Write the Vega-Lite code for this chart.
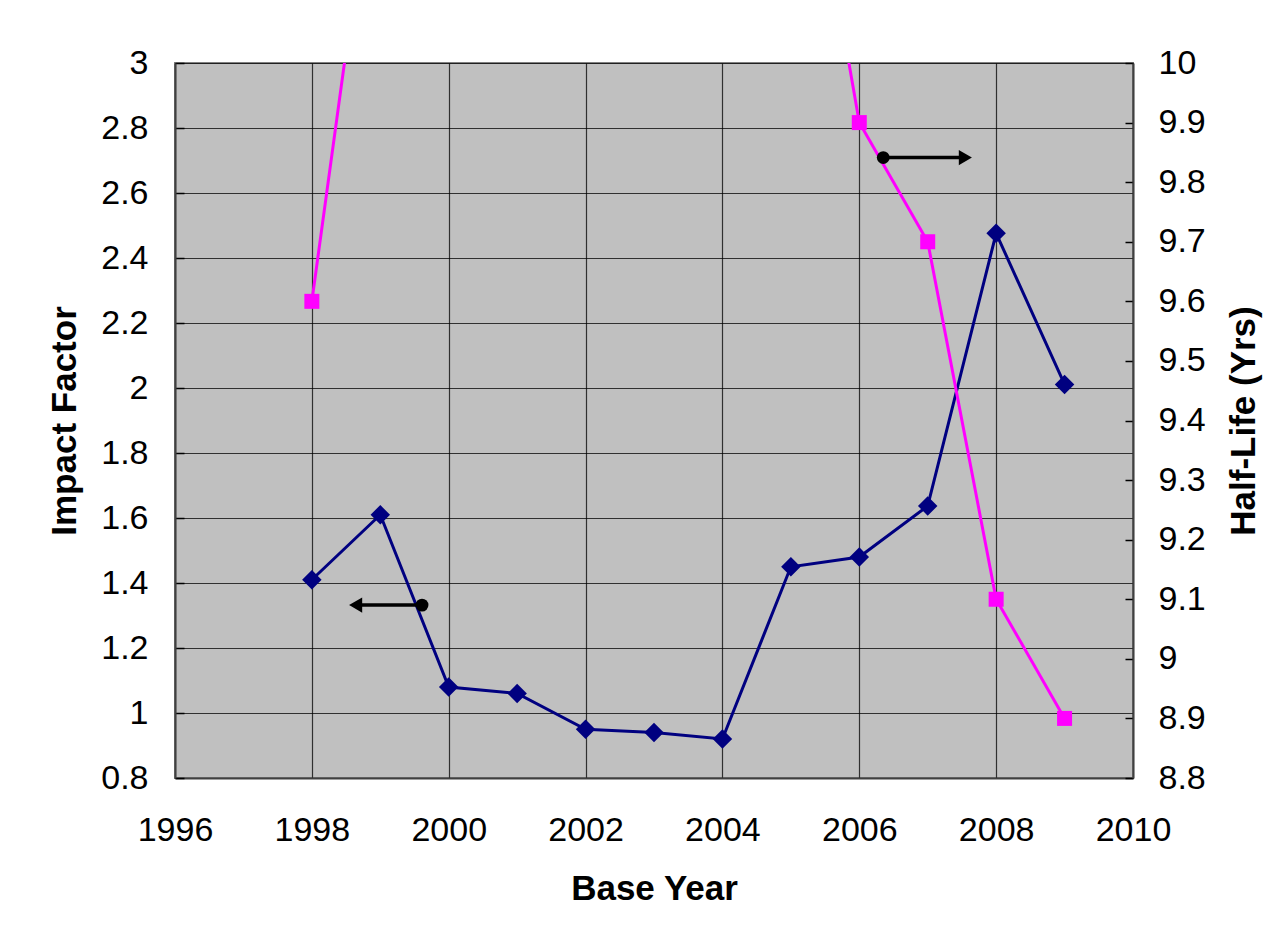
{
  "$schema": "https://vega.github.io/schema/vega-lite/v6.json",
  "width": 958,
  "height": 715,
  "autosize": {"type": "none"},
  "padding": {"left": 175, "top": 63, "right": 145, "bottom": 162},
  "background": "white",
  "config": {
    "view": {"fill": "#C0C0C0", "stroke": "#808080", "strokeWidth": 2},
    "font": "Liberation Sans",
    "axis": {
      "labelFont": "Liberation Sans",
      "titleFont": "Liberation Sans",
      "labelFontSize": 34,
      "titleFontSize": 35,
      "labelColor": "#000000",
      "titleColor": "#000000",
      "titleFontWeight": "bold",
      "domainColor": "#404040",
      "domainWidth": 2,
      "labelOverlap": false,
      "labelFlush": false
    }
  },
  "datasets": {
    "impact": [
      {"year": 1998, "impact": 1.41},
      {"year": 1999, "impact": 1.61},
      {"year": 2000, "impact": 1.08},
      {"year": 2001, "impact": 1.06},
      {"year": 2002, "impact": 0.95},
      {"year": 2003, "impact": 0.94},
      {"year": 2004, "impact": 0.92},
      {"year": 2005, "impact": 1.45},
      {"year": 2006, "impact": 1.48},
      {"year": 2007, "impact": 1.637},
      {"year": 2008, "impact": 2.476},
      {"year": 2009, "impact": 2.011}
    ],
    "halflife": [
      {"year": 1998, "halflife": 9.6},
      {"year": 1999, "halflife": 10.44},
      {"year": 2000, "halflife": 10.6},
      {"year": 2001, "halflife": 10.7},
      {"year": 2002, "halflife": 10.7},
      {"year": 2003, "halflife": 10.65},
      {"year": 2004, "halflife": 10.6},
      {"year": 2005, "halflife": 10.56},
      {"year": 2006, "halflife": 9.9},
      {"year": 2007, "halflife": 9.7},
      {"year": 2008, "halflife": 9.1},
      {"year": 2009, "halflife": 8.9}
    ],
    "arrows": [
      {"tail": 1999.61, "head": 1998.64, "y": 1.332, "dir": "left"},
      {"tail": 2006.35, "head": 2007.55, "y": 2.709, "dir": "right"}
    ]
  },
  "layer": [
    {
      "layer": [
        {
          "data": {"name": "impact"},
          "mark": {"type": "line", "color": "#000080", "strokeWidth": 3},
          "encoding": {
            "x": {
              "field": "year",
              "type": "quantitative",
              "scale": {"domain": [1996, 2010], "nice": false, "zero": false},
              "axis": {
                "title": "Base Year",
                "values": [1996, 1998, 2000, 2002, 2004, 2006, 2008, 2010],
                "format": "d",
                "ticks": false,
                "labelPadding": 35,
                "grid": true,
                "gridColor": "#000000",
                "gridOpacity": 0.75,
                "gridWidth": 1.2,
                "titlePadding": 24
              }
            },
            "y": {
              "field": "impact",
              "type": "quantitative",
              "scale": {"domain": [0.8, 3], "nice": false, "zero": false},
              "axis": {
                "title": "Impact Factor",
                "titleAngle": 270,
                "titleBaseline": "bottom",
                "titlePadding": 18,
                "values": [0.8, 0.9, 1, 1.1, 1.2, 1.3, 1.4, 1.5, 1.6, 1.7, 1.8, 1.9, 2, 2.1, 2.2, 2.3, 2.4, 2.5, 2.6, 2.7, 2.8, 2.9, 3],
                "format": "~g",
                "labelExpr": "round(datum.value*10) % 2 == 0 ? datum.label : ''",
                "tickSize": -9,
                "tickColor": "#000000",
                "tickWidth": 1.5,
                "labelPadding": 36,
                "grid": true,
                "gridColor": "#000000",
                "gridWidth": 1.2,
                "gridOpacity": {"condition": {"test": "round(datum.value*10) % 2 == 0", "value": 0.75}, "value": 0}
              }
            }
          }
        },
        {
          "data": {"name": "impact"},
          "mark": {"type": "point", "shape": "diamond", "filled": true, "color": "#000080", "size": 380, "opacity": 1},
          "encoding": {
            "x": {"field": "year", "type": "quantitative"},
            "y": {"field": "impact", "type": "quantitative"}
          }
        }
      ]
    },
    {
      "layer": [
        {
          "data": {"name": "halflife"},
          "mark": {"type": "line", "color": "#FF00FF", "strokeWidth": 3, "clip": true},
          "encoding": {
            "x": {"field": "year", "type": "quantitative"},
            "y": {
              "field": "halflife",
              "type": "quantitative",
              "scale": {"domain": [8.8, 10], "nice": false, "zero": false},
              "axis": {
                "orient": "right",
                "title": "Half-Life (Yrs)",
                "titleAngle": 270,
                "titleBaseline": "top",
                "titlePadding": 21,
                "values": [8.8, 8.85, 8.9, 8.95, 9, 9.05, 9.1, 9.15, 9.2, 9.25, 9.3, 9.35, 9.4, 9.45, 9.5, 9.55, 9.6, 9.65, 9.7, 9.75, 9.8, 9.85, 9.9, 9.95, 10],
                "format": "~g",
                "labelExpr": "abs(datum.value*10 - round(datum.value*10)) < 0.001 ? datum.label : ''",
                "tickSize": -8,
                "tickColor": "#000000",
                "tickWidth": 1.5,
                "labelPadding": 33,
                "grid": false
              }
            }
          }
        },
        {
          "data": {"name": "halflife"},
          "mark": {"type": "point", "shape": "square", "filled": true, "color": "#FF00FF", "size": 225, "opacity": 1, "clip": true},
          "encoding": {
            "x": {"field": "year", "type": "quantitative"},
            "y": {"field": "halflife", "type": "quantitative"}
          }
        }
      ]
    },
    {
      "layer": [
        {
          "data": {"name": "arrows"},
          "mark": {"type": "rule", "color": "#000000", "strokeWidth": 3.5},
          "encoding": {
            "x": {"field": "tail", "type": "quantitative"},
            "x2": {"field": "head"},
            "y": {"field": "y", "type": "quantitative", "scale": {"domain": [0.8, 3], "nice": false, "zero": false}, "axis": null}
          }
        },
        {
          "data": {"name": "arrows"},
          "mark": {"type": "point", "shape": "circle", "filled": true, "color": "#000000", "size": 165, "opacity": 1},
          "encoding": {
            "x": {"field": "tail", "type": "quantitative"},
            "y": {"field": "y", "type": "quantitative"}
          }
        },
        {
          "data": {"name": "arrows"},
          "transform": [{"filter": "datum.dir == 'left'"}],
          "mark": {"type": "point", "shape": "triangle-left", "filled": true, "color": "#000000", "size": 230, "opacity": 1},
          "encoding": {
            "x": {"field": "head", "type": "quantitative"},
            "y": {"field": "y", "type": "quantitative"}
          }
        },
        {
          "data": {"name": "arrows"},
          "transform": [{"filter": "datum.dir == 'right'"}],
          "mark": {"type": "point", "shape": "triangle-right", "filled": true, "color": "#000000", "size": 230, "opacity": 1},
          "encoding": {
            "x": {"field": "head", "type": "quantitative"},
            "y": {"field": "y", "type": "quantitative"}
          }
        }
      ]
    }
  ],
  "resolve": {"scale": {"y": "independent"}}
}
